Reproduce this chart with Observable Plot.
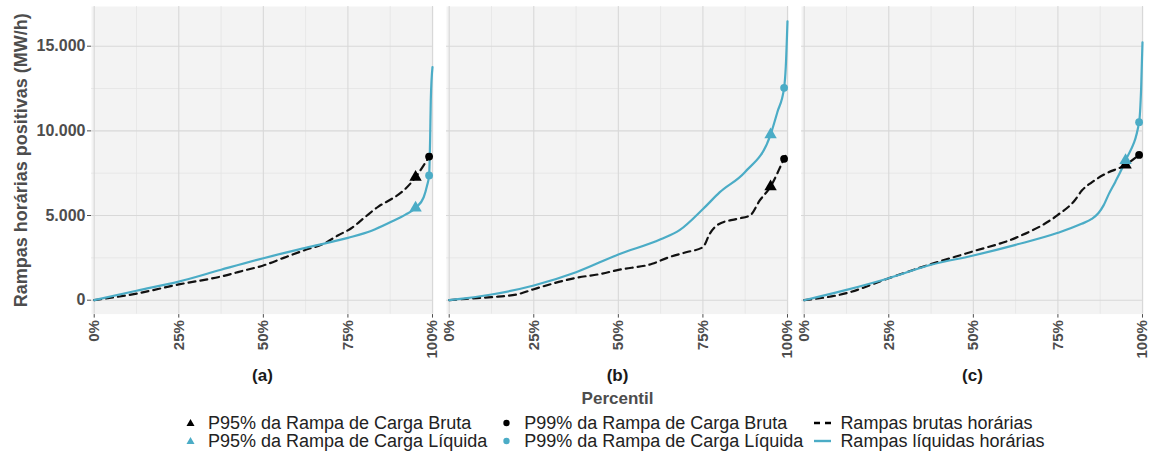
<!DOCTYPE html>
<html><head><meta charset="utf-8">
<script src="https://cdn.jsdelivr.net/npm/d3@7"></script>
<script src="https://cdn.jsdelivr.net/npm/@observablehq/plot@0.6"></script>
<style>
body{margin:0;background:#fff;font-family:"Liberation Sans",Arial,sans-serif;}
#wrap{width:1150px;height:452px;position:relative;overflow:hidden;background:#fff}
#chart{position:absolute;top:0;left:0}
#chart svg g[aria-label^="y-axis"] text{font-size:16px;font-weight:bold;fill:#4D4D4D}
#chart svg g[aria-label^="x-axis"] text{font-size:15px;font-weight:bold;fill:#4D4D4D}
#legend{position:absolute;top:414px;left:181px}
.lg{display:grid;grid-template-columns:auto auto auto;column-gap:10px;row-gap:0}
.it{display:flex;align-items:center;height:18px;font-size:18px;color:#222;white-space:nowrap;line-height:18px}
.it svg{width:19px;height:18px;margin-right:8px;flex:none}
</style>
</head><body>
<div id="wrap"><div id="chart"></div><div id="legend"></div></div>
<script>
const panels = ["(a)", "(b)", "(c)"];
const xTicks = [0, 25, 50, 75, 100];
const yTicks = [0, 5000, 10000, 15000];
// [percentil %, MW/h]
const brutaA = [[0,0],[12.5,390],[25,930],[37.5,1400],[45,1790],[50,2050],[56,2500],[62.5,2975],[68,3350],[72,3820],[76,4250],[80,4900],[84,5530],[88,5990],[91,6400],[95,7260],[97.5,8000],[99,8480],[100,8840]];
const liquidaA = [[0,0],[12.5,560],[25,1100],[37.5,1800],[50,2480],[62.5,3090],[75,3680],[82,4100],[87.5,4600],[92,5050],[95,5450],[97.4,6080],[98.4,6770],[99,7370],[99.3,9500],[99.5,11800],[100,13760]];
const brutaB = [[0,0],[5,80],[12.5,180],[20,340],[25,650],[37.5,1320],[45,1560],[50,1790],[60,2150],[65,2540],[70,2830],[75,3130],[77,3920],[79.5,4470],[85,4800],[88.9,5000],[91.8,5890],[95,6710],[99,8350],[100,8740]];
const liquidaB = [[0,0],[12.5,336],[25,868],[37.5,1650],[50,2700],[62.5,3600],[68.2,4150],[75.1,5400],[80,6380],[87.4,7560],[95,9780],[97,11100],[99,12540],[99.5,13800],[100,16470]];
const brutaC = [[0,0],[12.5,415],[25,1300],[37.5,2130],[50,2890],[62.5,3680],[75,5040],[80,5900],[82,6460],[85,6960],[89,7460],[95,7990],[99,8580]];
const liquidaC = [[0,0],[12.5,610],[25,1300],[37.5,2090],[50,2640],[62.5,3270],[75,3980],[82,4510],[85,4800],[87,5150],[88.5,5600],[90,6250],[92,7000],[95,8250],[99,10510],[99.6,12500],[100,15230]];
const p95Bruta = [7260, 6710, 7990];
const p99Bruta = [8480, 8350, 8580];
const p95Liquida = [5450, 9780, 8250];
const p99Liquida = [7370, 12540, 10510];

const blue = "#4BACC6";
const rows = [];
[[brutaA, liquidaA], [brutaB, liquidaB], [brutaC, liquidaC]].forEach(([b, l], i) => {
  b.forEach(([x, y]) => rows.push({panel: panels[i], s: "bruta", x, y}));
  l.forEach(([x, y]) => rows.push({panel: panels[i], s: "liquida", x, y}));
});
const marks = [];
panels.forEach((p, i) => {
  marks.push({panel: p, k: "p95b", x: 95, y: p95Bruta[i]});
  marks.push({panel: p, k: "p99b", x: 99, y: p99Bruta[i]});
  marks.push({panel: p, k: "p95l", x: 95, y: p95Liquida[i]});
  marks.push({panel: p, k: "p99l", x: 99, y: p99Liquida[i]});
});
const fmt = d3.formatLocale({decimal: ",", thousands: ".", grouping: [3], currency: ["", ""]}).format(",");

const H = 412, bottom = 313.6;
const chart = Plot.plot({
  width: 1150, height: H,
  marginLeft: 90, marginRight: 5, marginTop: 6, marginBottom: H - bottom,
  style: {fontFamily: "Liberation Sans, Arial, sans-serif", color: "#4D4D4D", background: "white"},
  fx: {domain: panels, paddingInner: 0.0365, paddingOuter: 0, axis: null, label: null},
  x: {domain: [-0.8, 100.3], ticks: xTicks, tickFormat: d => d + "%", tickRotate: -90, tickSize: 4, tickPadding: 2, label: null},
  y: {domain: [-821, 17344], ticks: yTicks, tickFormat: fmt, tickSize: 4, tickPadding: 2, label: null},
  marks: [
    Plot.frame({fill: "#F3F3F3", stroke: "none"}),
    Plot.ruleY([2500, 7500, 12500], {stroke: "#E2E2E2", strokeWidth: 0.7}),
    Plot.ruleX([12.5, 37.5, 62.5, 87.5], {stroke: "#E2E2E2", strokeWidth: 0.7}),
    Plot.ruleY(yTicks, {stroke: "#D8D8D8", strokeWidth: 1.1}),
    Plot.ruleX(xTicks, {stroke: "#D8D8D8", strokeWidth: 1.1}),
    Plot.line(rows.filter(d => d.s === "bruta"), {x: "x", y: "y", fx: "panel", z: "panel", stroke: "#111", strokeWidth: 2.2, strokeDasharray: "7,5", curve: "monotone-x"}),
    Plot.line(rows.filter(d => d.s === "liquida"), {x: "x", y: "y", fx: "panel", z: "panel", stroke: blue, strokeWidth: 2.2, curve: "monotone-x"}),
    Plot.dot(marks.filter(d => d.k === "p95b"), {x: "x", y: "y", fx: "panel", symbol: "triangle", fill: "#000", r: 4.6}),
    Plot.dot(marks.filter(d => d.k === "p99b"), {x: "x", y: "y", fx: "panel", symbol: "circle", fill: "#000", r: 3.9}),
    Plot.dot(marks.filter(d => d.k === "p95l"), {x: "x", y: "y", fx: "panel", symbol: "triangle", fill: blue, r: 4.6}),
    Plot.dot(marks.filter(d => d.k === "p99l"), {x: "x", y: "y", fx: "panel", symbol: "circle", fill: blue, r: 3.9}),
    Plot.text(panels, {fx: d => d, text: d => d, frameAnchor: "bottom", textAnchor: "middle", dy: 67, fontSize: 17, fontWeight: "bold", fill: "#1A1A1A"}),
    Plot.text(["(b)"], {fx: d => d, text: () => "Percentil", frameAnchor: "bottom", textAnchor: "middle", dy: 90, fontSize: 17, fontWeight: "bold", fill: "#4D4D4D"}),
    Plot.text(["(a)"], {fx: d => d, text: () => "Rampas horárias positivas (MW/h)", frameAnchor: "left", textAnchor: "middle", dx: -70, rotate: -90, fontSize: 18, fontWeight: "bold", fill: "#4D4D4D"})
  ]
});
document.getElementById("chart").appendChild(chart);

const legendItems = [
  ["tri", "#000", "P95% da Rampa de Carga Bruta"],
  ["dot", "#000", "P99% da Rampa de Carga Bruta"],
  ["dash", "#000", "Rampas brutas horárias"],
  ["tri", blue, "P95% da Rampa de Carga Líquida"],
  ["dot", blue, "P99% da Rampa de Carga Líquida"],
  ["line", blue, "Rampas líquidas horárias"]
];
const lg = document.createElement("div");
lg.className = "lg";
legendItems.forEach(([k, c, t]) => {
  const it = document.createElement("div");
  it.className = "it";
  let g = "";
  if (k === "tri") g = `<path d="M9.5,5 L13.5,12 L5.5,12 Z" fill="${c}"/>`;
  if (k === "dot") g = `<circle cx="9.5" cy="9" r="3.2" fill="${c}"/>`;
  if (k === "dash") g = `<line x1="1" x2="18" y1="9" y2="9" stroke="${c}" stroke-width="2.4" stroke-dasharray="6,5"/>`;
  if (k === "line") g = `<line x1="1" x2="18" y1="9" y2="9" stroke="${c}" stroke-width="2.4"/>`;
  it.innerHTML = `<svg viewBox="0 0 19 18">${g}</svg><span>${t}</span>`;
  lg.appendChild(it);
});
document.getElementById("legend").appendChild(lg);
</script>
</body></html>
